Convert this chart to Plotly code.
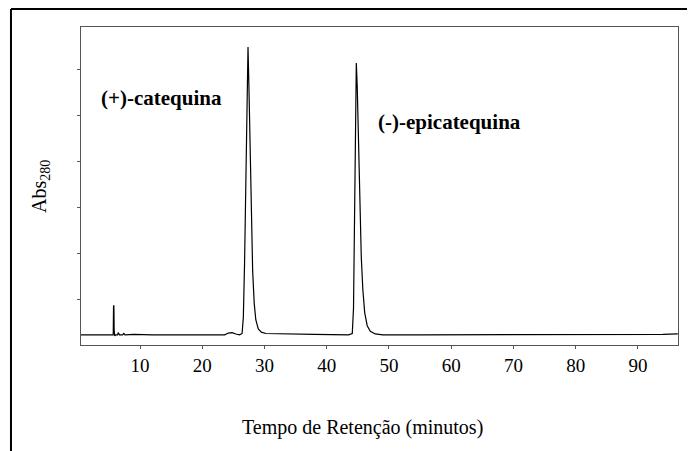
import plotly.graph_objects as go

# Retention time (minutes) and absorbance at 280 nm (arbitrary units)
tempo = [0.5, 3.0, 5.5, 5.7, 5.75, 5.8, 5.85, 5.95, 6.1, 6.4, 6.5, 6.7, 7.2, 7.4, 7.6, 9.0,
         12.0, 15.0, 20.0, 23.6, 24.2, 24.8, 25.4, 26.0, 26.4, 26.6, 26.8, 27.0, 27.2,
         27.35, 27.5, 27.7, 27.9, 28.1, 28.35, 28.6, 29.0, 29.5, 30.2, 33.0, 38.0, 43.5,
         44.1, 44.3, 44.45, 44.6, 44.75, 44.9, 45.1, 45.3, 45.55, 45.8, 46.1, 46.5, 47.0,
         47.8, 49.0, 55.0, 60.0, 65.0, 70.0, 75.0, 80.0, 85.0, 90.0, 94.0, 96.4]
absorbancia = [0.22, 0.22, 0.22, 0.22, 0.85, 0.85, 0.30, 0.20, 0.22, 0.22, 0.27, 0.22, 0.22, 0.25, 0.22, 0.23,
               0.22, 0.22, 0.22, 0.22, 0.26, 0.27, 0.24, 0.22, 0.25, 0.6, 1.8, 3.8, 5.8,
               6.48, 5.6, 4.0, 2.6, 1.6, 0.9, 0.55, 0.35, 0.28, 0.25, 0.24, 0.23, 0.22,
               0.25, 0.8, 2.5, 4.5, 6.13, 5.6, 4.3, 3.0, 1.9, 1.2, 0.7, 0.42, 0.30,
               0.24, 0.22, 0.22, 0.22, 0.22, 0.23, 0.22, 0.23, 0.23, 0.23, 0.23, 0.24]

x_ticks = [10, 20, 30, 40, 50, 60, 70, 80, 90]
y_ticks = [1, 2, 3, 4, 5, 6]

picos = ["(+)-catequina", "(-)-epicatequina"]

FONT = "Liberation Serif, Times New Roman, Times, serif"

fig = go.Figure()
fig.add_trace(go.Scatter(x=tempo, y=absorbancia, mode="lines",
                         line=dict(color="black", width=1.2), showlegend=False,
                         hoverinfo="skip"))

# page body has an 8px margin, so the figure is 8px smaller and margins shifted
fig.update_layout(
    width=687, height=443,
    margin=dict(l=73, r=17, t=19, b=106),
    paper_bgcolor="white", plot_bgcolor="white",
    font=dict(family=FONT, color="black"),
    xaxis=dict(range=[0.52, 96.43], tickvals=x_ticks, ticktext=[str(v) for v in x_ticks],
               showgrid=False, zeroline=False, showline=True, linecolor="#555",
               linewidth=1, mirror=True, ticks="outside", ticklen=3, tickcolor="#555",
               tickfont=dict(family=FONT, size=19, color="black"), ticklabelstandoff=0),
    yaxis=dict(range=[0, 6.913], tickvals=y_ticks, showticklabels=False,
               showgrid=False, zeroline=False, showline=True, linecolor="#555",
               linewidth=1, mirror=True, ticks="outside", ticklen=3, tickcolor="#555"),
)

fig.add_annotation(text="<b>" + picos[0] + "</b>", xref="paper", yref="paper",
                   x=0.135, y=0.777, showarrow=False,
                   font=dict(family=FONT, size=21, color="black"),
                   xanchor="center", yanchor="middle")
fig.add_annotation(text="<b>" + picos[1] + "</b>", xref="paper", yref="paper",
                   x=0.617, y=0.70, showarrow=False,
                   font=dict(family=FONT, size=21, color="black"),
                   xanchor="center", yanchor="middle")

fig.add_annotation(text="Abs<sub>280</sub>", xref="paper", yref="paper", x=-0.0687, y=0.5,
                   textangle=-90, showarrow=False,
                   font=dict(family=FONT, size=20, color="black"),
                   xanchor="center", yanchor="middle")
fig.add_annotation(text="Tempo de Retenção (minutos)", xref="paper", yref="paper",
                   x=0.4707, y=-0.261, showarrow=False,
                   font=dict(family=FONT, size=20, color="black"),
                   xanchor="center", yanchor="middle")

# outer frame (top and left edges)
fig.add_shape(type="line", xref="paper", yref="paper", x0=-0.1173, x1=1.05,
              y0=1.0566, y1=1.0566, line=dict(color="black", width=2))
fig.add_shape(type="line", xref="paper", yref="paper", x0=-0.1173, x1=-0.1173,
              y0=1.0566, y1=-0.35, line=dict(color="black", width=2))

fig.write_html("out.html")
